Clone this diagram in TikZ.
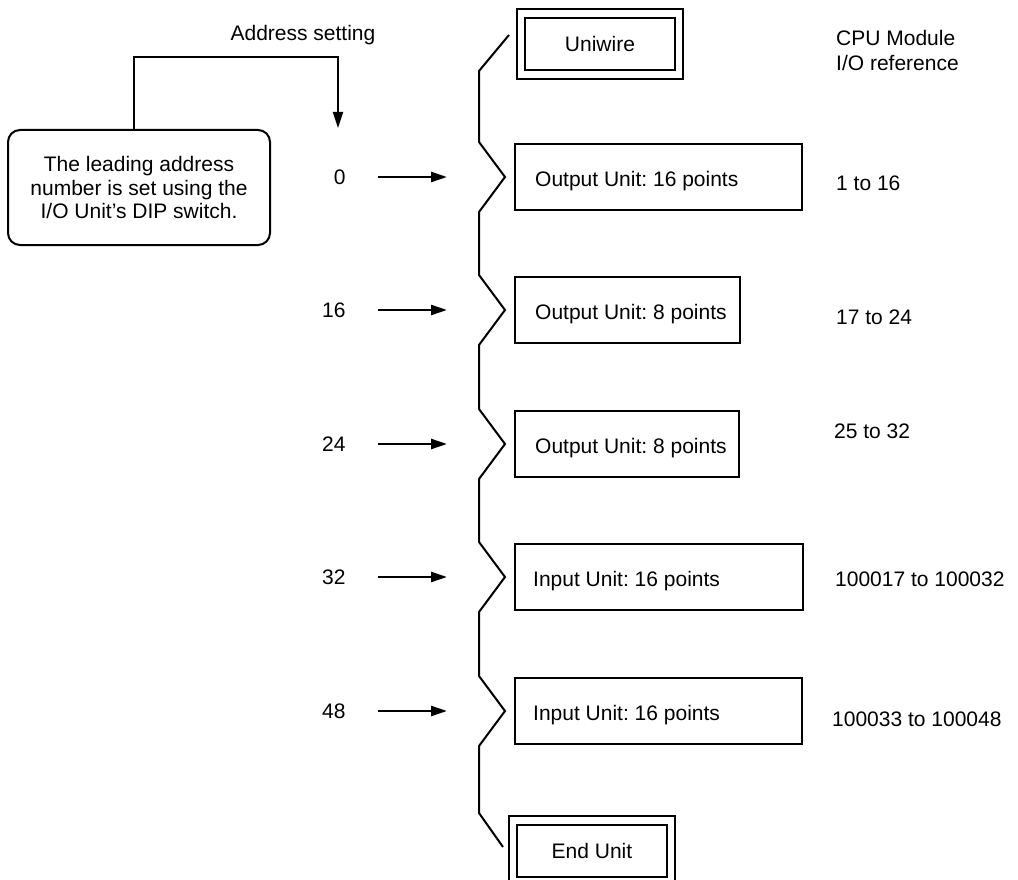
\documentclass[tikz,border=0pt]{standalone}
\usepackage{fontspec}
\setmainfont{Liberation Sans}
\usetikzlibrary{positioning,arrows.meta}
\frenchspacing

\begin{document}
\begin{tikzpicture}[
			x=1pt, y=-1pt,
			font=\fontsize{21}{23.5}\selectfont,
			unit/.style={draw, line width=2pt, minimum height=66pt, anchor=west},
			dbox/.style={draw, line width=2pt, double, double distance=6.5pt, minimum width=158pt, minimum height=61pt},
			note/.style={draw, line width=2pt, rounded corners=12pt, minimum width=262pt, minimum height=115pt, align=center},
			tag/.style={inner sep=0pt, yshift=-4pt},
			addr/.style={anchor=east},
			ref/.style={anchor=west, inner sep=0pt, align=left},
			arrow/.style={->, line width=2pt},
			feed/.style={->, line width=2.4pt, shorten <=29pt, shorten >=67pt},
			bus/.style={line width=2pt},
			>={Triangle[length=16pt,width=10pt]}
		]
		\useasboundingbox (0,0) rectangle (1018,880);

		\node (title) at (303,35) {Address setting};
		\node[note] (note) at (139,187.5) {The leading address\\number is set using the\\I/O Unit's DIP switch.};
		\coordinate (tip) at (338,128);
		\draw[arrow] ([xshift=-5pt]note.north) -- ++(0,-72) -| (tip);

		\node[dbox] (uniwire) at (600,44) {Uniwire};
		\node[dbox] (endunit) at (592,851) {End Unit};

		\node[unit, minimum width=287pt] (out16) at (514,177) {};
		\node[tag, right=21pt of out16.west] (out16t) {Output Unit: 16 points};
		\node[unit, minimum width=225pt] (out8a) at (514,310) {};
		\node[tag, right=21pt of out8a.west] (out8at) {Output Unit: 8 points};
		\node[unit, minimum width=224pt] (out8b) at (514,444) {};
		\node[tag, right=21pt of out8b.west] (out8bt) {Output Unit: 8 points};
		\node[unit, minimum width=288pt] (in16a) at (514,577) {};
		\node[tag, right=19pt of in16a.west] (in16at) {Input Unit: 16 points};
		\node[unit, minimum width=287pt] (in16b) at (514,711) {};
		\node[tag, right=19pt of in16b.west] (in16bt) {Input Unit: 16 points};

		\node[addr] (a0) at (349,177) {0};
		\node[addr] (a16) at (349,310) {16};
		\node[addr] (a24) at (349,444) {24};
		\node[addr] (a32) at (349,577) {32};
		\node[addr] (a48) at (349,711) {48};

		\draw[feed] (a0.east) -- (out16.west);
		\draw[feed] (a16.east) -- (out8a.west);
		\draw[feed] (a24.east) -- (out8b.west);
		\draw[feed] (a32.east) -- (in16a.west);
		\draw[feed] (a48.east) -- (in16b.west);

		\draw[bus] (509,35) -- (479,71)
			foreach \y in {177,310,444,577,711} { -- (479,\y-35) -- (505,\y) -- (479,\y+35) }
			-- (479,813) -- (503,847);

		\node[ref, font=\fontsize{21}{25}\selectfont] (cpu) at (836,50.5) {CPU Module\\I/O reference};
		\node[ref] (r1) at (836,183) {1 to 16};
		\node[ref] (r2) at (836,317) {17 to 24};
		\node[ref] (r3) at (834,431) {25 to 32};
		\node[ref] (r4) at (835,579) {100017 to 100032};
		\node[ref] (r5) at (832,719) {100033 to 100048};
	\end{tikzpicture}
\end{document}
